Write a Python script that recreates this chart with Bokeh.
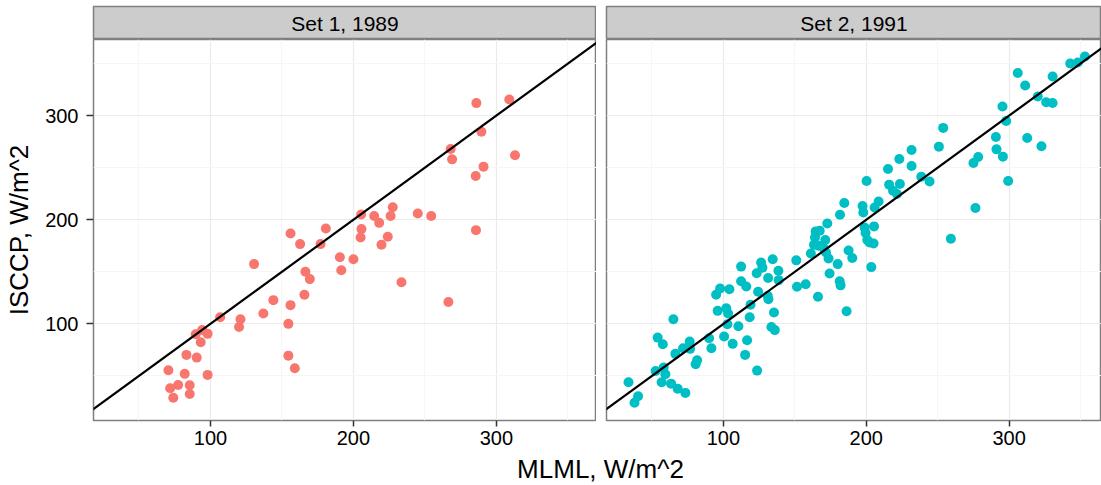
from bokeh.plotting import figure
from bokeh.layouts import column, row
from bokeh.models import Range1d, FixedTicker, Slope
from bokeh.core.properties import value
from bokeh.embed import file_html
from bokeh.resources import INLINE

FONT = "Liberation Sans"

panel_titles = ["Set 1, 1989", "Set 2, 1991"]
x_label = "MLML, W/m^2"
y_label = "ISCCP, W/m^2"
major_ticks = [100, 200, 300]
minor_ticks = [50, 150, 250, 350]
colors = ["#F8766D", "#00BFC4"]

set1_x = [286, 309, 289.5, 268, 269, 313, 291, 285.5, 227.5, 205.4, 214.5, 226, 245, 254.4,
          218, 205.6, 205, 224, 219.6, 285.7, 190.5, 200, 191.5, 233.6, 266.4, 162.7, 177,
          130.5, 166.4, 169.5, 165.7, 144, 156, 137, 106.8, 121, 120, 154.5, 89.7, 94.2, 98,
          93.2, 83.2, 90.4, 154.5, 159, 70.6, 82, 98, 71.8, 77.4, 85.5, 85.5, 74, 156, 180.7]
set1_y = [312, 315.5, 284.5, 268, 258, 262, 251, 242, 212, 205, 203.6, 203.6, 206, 203.6,
          197, 191, 183, 183.6, 176, 190, 164, 162, 151.5, 140, 121, 176.6, 176.6,
          157.4, 150, 143, 128, 122.8, 118, 110, 106.4, 104.5, 97, 100, 90, 94, 90.4,
          82.4, 70.2, 67.6, 69.5, 57.4, 55.5, 52, 51, 38.2, 41.3, 41, 32.7, 29, 186.8, 191.6]

set2_x = [342.7, 348, 353, 306, 330.4, 311.2, 320, 325.9, 330.4, 295.3, 297.9, 312.6, 322.6,
          290.7, 291.1, 295.6, 278.3, 275, 299.3, 276.4, 259.2, 253.8, 250.8, 231.7, 223.1,
          215.2, 231.7, 238.5, 244.3, 216, 223.5, 218.7, 221.5, 200.2, 184.6, 181.6, 197.4,
          197.9, 208.6, 205.8, 198.8, 199.5, 205.4, 200.7, 205.1, 202.3, 187.6, 190.2, 203.5,
          172.7, 167.4, 164.6, 164.1, 171.3, 163.4, 166.6, 170.1, 161.2, 171.8,
          173.6, 180, 174.3, 181.4, 182, 186.2, 166.2, 151, 157.6, 151.5, 134.5, 126.4, 127.3,
          123.3, 138.5, 131.3, 138.7, 112.4, 112.4, 116, 124.3, 131, 131.5, 119, 135.4, 118.4,
          133.6, 136, 97.7, 104.2, 94.9, 96, 102, 103.3, 102.8, 110.5, 100.5, 116.6, 106.5,
          115.2, 123.6, 90, 91.6, 76.4, 71.8, 76.7, 66.4, 81.6, 80.6, 65, 54, 57.6, 52.6, 58.2,
          59.4, 56.8, 63.4, 68, 73.4, 33.6, 40.3, 37.8]
set2_y = [350, 351, 356.7, 341, 337.5, 329, 318.3, 312.8, 312.2, 308.7, 294.9, 278.5, 270.5,
          279.5, 267.6, 260.6, 260.3, 254.5, 237.2, 211.3, 181.7, 288.2, 270.2, 267, 258.4,
          248.8, 251.6, 241.3, 236.8, 233.7, 234.3, 227.9, 224.7, 237.2, 216, 204.8, 213.2,
          207, 217.6, 211.8, 192.6, 187.2, 193.6, 180.5, 177.2, 178.2, 170.5, 163.2, 154.5,
          196.4, 189.4, 188.8, 183, 180.5, 176, 175, 172.8, 167.6, 168.6,
          162.8, 157.4, 148.4, 141, 137, 112.2, 126, 161, 138, 135.6, 162, 159, 154,
          148.7, 151, 144, 142, 155, 141, 135.9, 130.8, 127, 123.7, 118.3, 110.9, 106.4,
          97, 94, 134, 133.3, 127.9, 112.5, 115, 110, 99.7, 97.8, 87.8, 84.3, 80.8,
          70.2, 55.1, 86.2, 76.6, 83, 76.6, 76, 71.2, 65, 61.2, 104.5, 86.8, 80.4, 54.8, 58,
          51.6, 44, 42.6, 37.8, 33.7, 44, 30.5, 24.3]

Y_RANGE = (7.2, 373.1)
PANEL_H = 414
FRAME_BOTTOM_BORDER = 33


def strip(title, width, left):
    s = figure(width=width, height=39, x_range=Range1d(0, 1), y_range=Range1d(0, 1),
               x_axis_location=None, y_axis_location=None, output_backend="svg",
               toolbar_location=None, min_border_left=left, min_border_right=0,
               min_border_top=6, min_border_bottom=0)
    s.grid.visible = False
    s.background_fill_color = "#CCCCCC"
    s.border_fill_color = "white"
    s.outline_line_color = "#7F7F7F"
    s.outline_line_width = 1.5
    s.text(x=[0.5], y=[0.5], text=[title], text_align="center", text_baseline="middle",
           text_font=value(FONT), text_font_size="21px", text_color="black")
    return s


def panel(xs, ys, color, xr, width, left, show_y):
    p = figure(width=width, height=PANEL_H, x_range=Range1d(*xr), y_range=Range1d(*Y_RANGE),
               output_backend="svg", toolbar_location=None, min_border_left=left,
               min_border_right=0, min_border_top=0, min_border_bottom=FRAME_BOTTOM_BORDER)
    p.background_fill_color = "white"
    p.border_fill_color = "white"
    p.outline_line_color = "#7F7F7F"
    p.outline_line_width = 1.5
    for g in (p.xgrid, p.ygrid):
        g.ticker = FixedTicker(ticks=major_ticks, minor_ticks=minor_ticks)
        g.grid_line_color = "#EBEBEB"
        g.grid_line_width = 1.2
        g.minor_grid_line_color = "#F6F6F6"
        g.minor_grid_line_width = 1
    p.scatter(xs, ys, size=10, fill_color=color, line_color=None)
    p.add_layout(Slope(gradient=1, y_intercept=0, line_color="black", line_width=2.2))
    for ax in (p.xaxis, p.yaxis):
        ax.ticker = FixedTicker(ticks=major_ticks, minor_ticks=minor_ticks)
        ax.axis_line_color = None
        ax.major_tick_line_color = "#333333"
        ax.major_tick_line_width = 1.5
        ax.major_tick_out = 6
        ax.major_tick_in = 0
        ax.minor_tick_line_color = None
        ax.major_label_text_font = FONT
        ax.major_label_text_font_size = "20px"
        ax.major_label_text_color = "black"
    p.xaxis.major_label_standoff = 4
    p.yaxis.major_tick_out = 7
    p.yaxis.major_label_standoff = 8
    if show_y:
        p.yaxis.axis_label = y_label
        p.yaxis.axis_label_text_font = FONT
        p.yaxis.axis_label_text_font_size = "26px"
        p.yaxis.axis_label_text_font_style = "normal"
        p.yaxis.axis_label_text_color = "black"
        p.yaxis.axis_label_standoff = 8
    else:
        p.yaxis.visible = False
    return p


left_strip = strip(panel_titles[0], 596, 93)
right_strip = strip(panel_titles[1], 505, 10)
left_panel = panel(set1_x, set1_y, colors[0], (18.2, 370.0), 596, 93, True)
right_panel = panel(set2_x, set2_y, colors[1], (18.2, 364.6), 505, 10, False)

XL_H = 32
xl = figure(width=1101, height=XL_H, x_range=Range1d(0, 1101), y_range=Range1d(XL_H, 0),
            x_axis_location=None, y_axis_location=None, output_backend="svg",
            toolbar_location=None, min_border_left=0, min_border_right=0,
            min_border_top=0, min_border_bottom=0)
xl.grid.visible = False
xl.outline_line_color = None
xl.text(x=[600], y=[15.5], text=[x_label], text_align="center", text_baseline="middle",
        text_font=value(FONT), text_font_size="26px", text_color="black")

layout = column(row(left_strip, right_strip), row(left_panel, right_panel), xl)

open("out.html", "w").write(file_html(layout, INLINE))
